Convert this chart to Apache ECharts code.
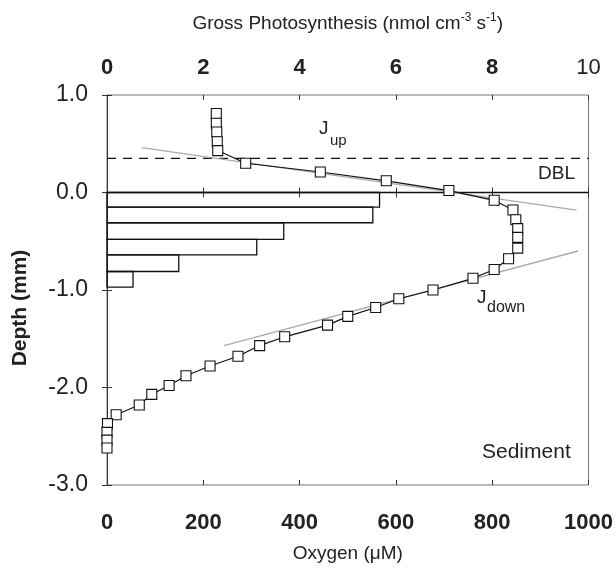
<!DOCTYPE html>
<html>
<head>
<meta charset="utf-8">
<script src="https://cdn.jsdelivr.net/npm/echarts@6/dist/echarts.min.js"></script>
<style>html,body{margin:0;padding:0;background:#fff}#c{width:616px;height:574px}</style>
</head>
<body>
<div id="c"></div>
<script>
// ---- data ----
const oxygenDepth = [0.81, 0.71, 0.62, 0.52, 0.43, 0.30, 0.21, 0.12, 0.02, -0.08, -0.18, -0.28, -0.37, -0.46, -0.57, -0.68, -0.79, -0.88, -1.00, -1.09, -1.18, -1.27, -1.36, -1.48, -1.57, -1.68, -1.78, -1.88, -1.98, -2.07, -2.18, -2.28, -2.37, -2.46, -2.54, -2.62];
const oxygenValue = [227, 227, 228, 229, 230, 288, 443, 580, 710, 804, 843, 849, 853, 853, 853, 834, 804, 760, 677, 606, 558, 500, 458, 369, 317, 272, 214, 164, 129, 93, 67, 19, 1, 0, 0, 0];
const photoDepthTop = [0.0, -0.15, -0.31, -0.48, -0.64, -0.81];
const photoDepthBottom = [-0.15, -0.31, -0.48, -0.64, -0.81, -0.97];
const grossPhoto = [5.66, 5.52, 3.67, 3.11, 1.49, 0.54];
const jUpO2 = [72, 975];
const jUpDepth = [0.46, -0.18];
const jDownO2 = [243, 978];
const jDownDepth = [-1.57, -0.60];
const dblDepth = 0.35;
const surfaceDepth = 0.0;
const oxygenTicks = [0, 200, 400, 600, 800, 1000];
const photoTicks = [0, 2, 4, 6, 8, 10];
const depthTicks = [1, 0, -1, -2, -3];

const FONT = 'Liberation Sans, Arial, sans-serif';
const chart = echarts.init(document.getElementById('c'), null, {renderer: 'canvas'});

const profile = oxygenValue.map((o, i) => [o, oxygenDepth[i]]);
const bars = grossPhoto.map((g, i) => [g, photoDepthTop[i], photoDepthBottom[i]]);

const option = {
  animation: false,
  backgroundColor: '#fff',
  grid: {left: 107, right: 27, top: 95, bottom: 89, show: true, borderColor: '#777', borderWidth: 1},
  xAxis: [
    {
      type: 'value', position: 'bottom', min: oxygenTicks[0], max: oxygenTicks[oxygenTicks.length - 1], interval: 200,
      splitLine: {show: false},
      axisLine: {lineStyle: {color: '#333', width: 1}},
      axisTick: {inside: false, length: 5, lineStyle: {color: '#333'}},
      axisLabel: {margin: 27, fontFamily: FONT, fontSize: 22, fontWeight: 'bold', color: '#222', formatter: v => String(v)},
      name: 'Oxygen (\u03BCM)', nameLocation: 'middle', nameGap: 59,
      nameTextStyle: {fontFamily: FONT, fontSize: 19, color: '#222'}
    },
    {
      type: 'value', position: 'top', min: photoTicks[0], max: photoTicks[photoTicks.length - 1], interval: 2,
      splitLine: {show: false},
      axisLine: {lineStyle: {color: '#333', width: 1}},
      axisTick: {inside: false, length: 5, lineStyle: {color: '#333'}},
      axisLabel: {
        margin: 16, fontFamily: FONT, color: '#222',
        formatter: v => v === 10 ? '{n|10}' : '{b|' + v + '}',
        rich: {
          b: {fontFamily: FONT, fontSize: 22, fontWeight: 'bold', color: '#222'},
          n: {fontFamily: FONT, fontSize: 22, fontWeight: 'normal', color: '#222'}
        }
      },
      name: '{a|Gross Photosynthesis (nmol cm}{s|-3}{a| s}{s|-1}{a|)}', nameLocation: 'middle', nameGap: 59,
      nameTextStyle: {
        fontFamily: FONT,
        rich: {
          a: {fontFamily: FONT, fontSize: 19, color: '#222', lineHeight: 24},
          s: {fontFamily: FONT, fontSize: 12, color: '#222', verticalAlign: 'top', lineHeight: 24}
        }
      }
    },
    {
      type: 'value', position: 'bottom', min: 0, max: 1000, interval: 200,
      splitLine: {show: false}, axisLine: {show: false},
      axisTick: {inside: true, length: 5, lineStyle: {color: '#333'}},
      axisLabel: {show: false}
    },
    {
      type: 'value', position: 'top', min: 0, max: 10, interval: 2,
      splitLine: {show: false}, axisLine: {show: false},
      axisTick: {inside: true, length: 5, lineStyle: {color: '#333'}},
      axisLabel: {show: false}
    }
  ],
  yAxis: [
    {
      type: 'value', position: 'left', min: depthTicks[depthTicks.length - 1], max: depthTicks[0], interval: 1,
      splitLine: {show: false},
      axisLine: {lineStyle: {color: '#333', width: 1}},
      axisTick: {inside: false, length: 5, lineStyle: {color: '#333'}},
      axisLabel: {margin: 19, fontFamily: FONT, fontSize: 23, color: '#222', formatter: v => v.toFixed(1)}
    },
    {
      type: 'value', position: 'left', min: -3, max: 1, interval: 1,
      splitLine: {show: false}, axisLine: {show: false},
      axisTick: {inside: true, length: 5, lineStyle: {color: '#333'}},
      axisLabel: {show: false}
    }
  ],
  series: [
    {
      type: 'line', xAxisIndex: 0, yAxisIndex: 0, data: [[0, dblDepth], [1000, dblDepth]],
      symbol: 'none', lineStyle: {color: '#111', width: 1.2, type: [9, 7]}, z: 2
    },
    {
      type: 'line', xAxisIndex: 0, yAxisIndex: 0, data: [[0, surfaceDepth], [1000, surfaceDepth]],
      symbol: 'none', lineStyle: {color: '#111', width: 1.3}, z: 2
    },
    {
      type: 'custom', xAxisIndex: 1, yAxisIndex: 0, data: bars, z: 3,
      encode: {x: 0, y: [1, 2]},
      renderItem: function (params, api) {
        const p0 = api.coord([0, api.value(1)]);
        const p1 = api.coord([api.value(0), api.value(2)]);
        return {
          type: 'rect',
          shape: {x: p0[0], y: p0[1], width: p1[0] - p0[0], height: p1[1] - p0[1]},
          style: {fill: 'none', stroke: '#111', lineWidth: 1.3}
        };
      }
    },
    {
      type: 'line', xAxisIndex: 0, yAxisIndex: 0, data: jUpO2.map((o, i) => [o, jUpDepth[i]]),
      symbol: 'none', lineStyle: {color: '#aaa', width: 1.3}, z: 4
    },
    {
      type: 'line', xAxisIndex: 0, yAxisIndex: 0, data: jDownO2.map((o, i) => [o, jDownDepth[i]]),
      symbol: 'none', lineStyle: {color: '#aaa', width: 1.3}, z: 4
    },
    {
      type: 'line', xAxisIndex: 0, yAxisIndex: 0, data: profile, z: 5,
      symbol: 'rect', symbolSize: 10, showAllSymbol: true,
      itemStyle: {color: '#fff', borderColor: '#111', borderWidth: 1.1},
      lineStyle: {color: '#111', width: 1.2}
    }
  ],
  graphic: [
    {type: 'text', x: 20, y: 308, rotation: Math.PI / 2,
     style: {text: 'Depth (mm)', font: 'bold 21px ' + FONT, fill: '#222', align: 'center', verticalAlign: 'middle'}},
    {type: 'text', left: 319, top: 119, style: {text: 'J', font: '19px ' + FONT, fill: '#222'}},
    {type: 'text', left: 330, top: 133, style: {text: 'up', font: '15px ' + FONT, fill: '#222'}},
    {type: 'text', left: 538, top: 164, style: {text: 'DBL', font: '19px ' + FONT, fill: '#222'}},
    {type: 'text', left: 477, top: 288, style: {text: 'J', font: '19px ' + FONT, fill: '#222'}},
    {type: 'text', left: 487, top: 300, style: {text: 'down', font: '16px ' + FONT, fill: '#222'}},
    {type: 'text', left: 482, top: 442, style: {text: 'Sediment', font: '21px ' + FONT, fill: '#222'}}
  ]
};
chart.setOption(option);
</script>
</body>
</html>
